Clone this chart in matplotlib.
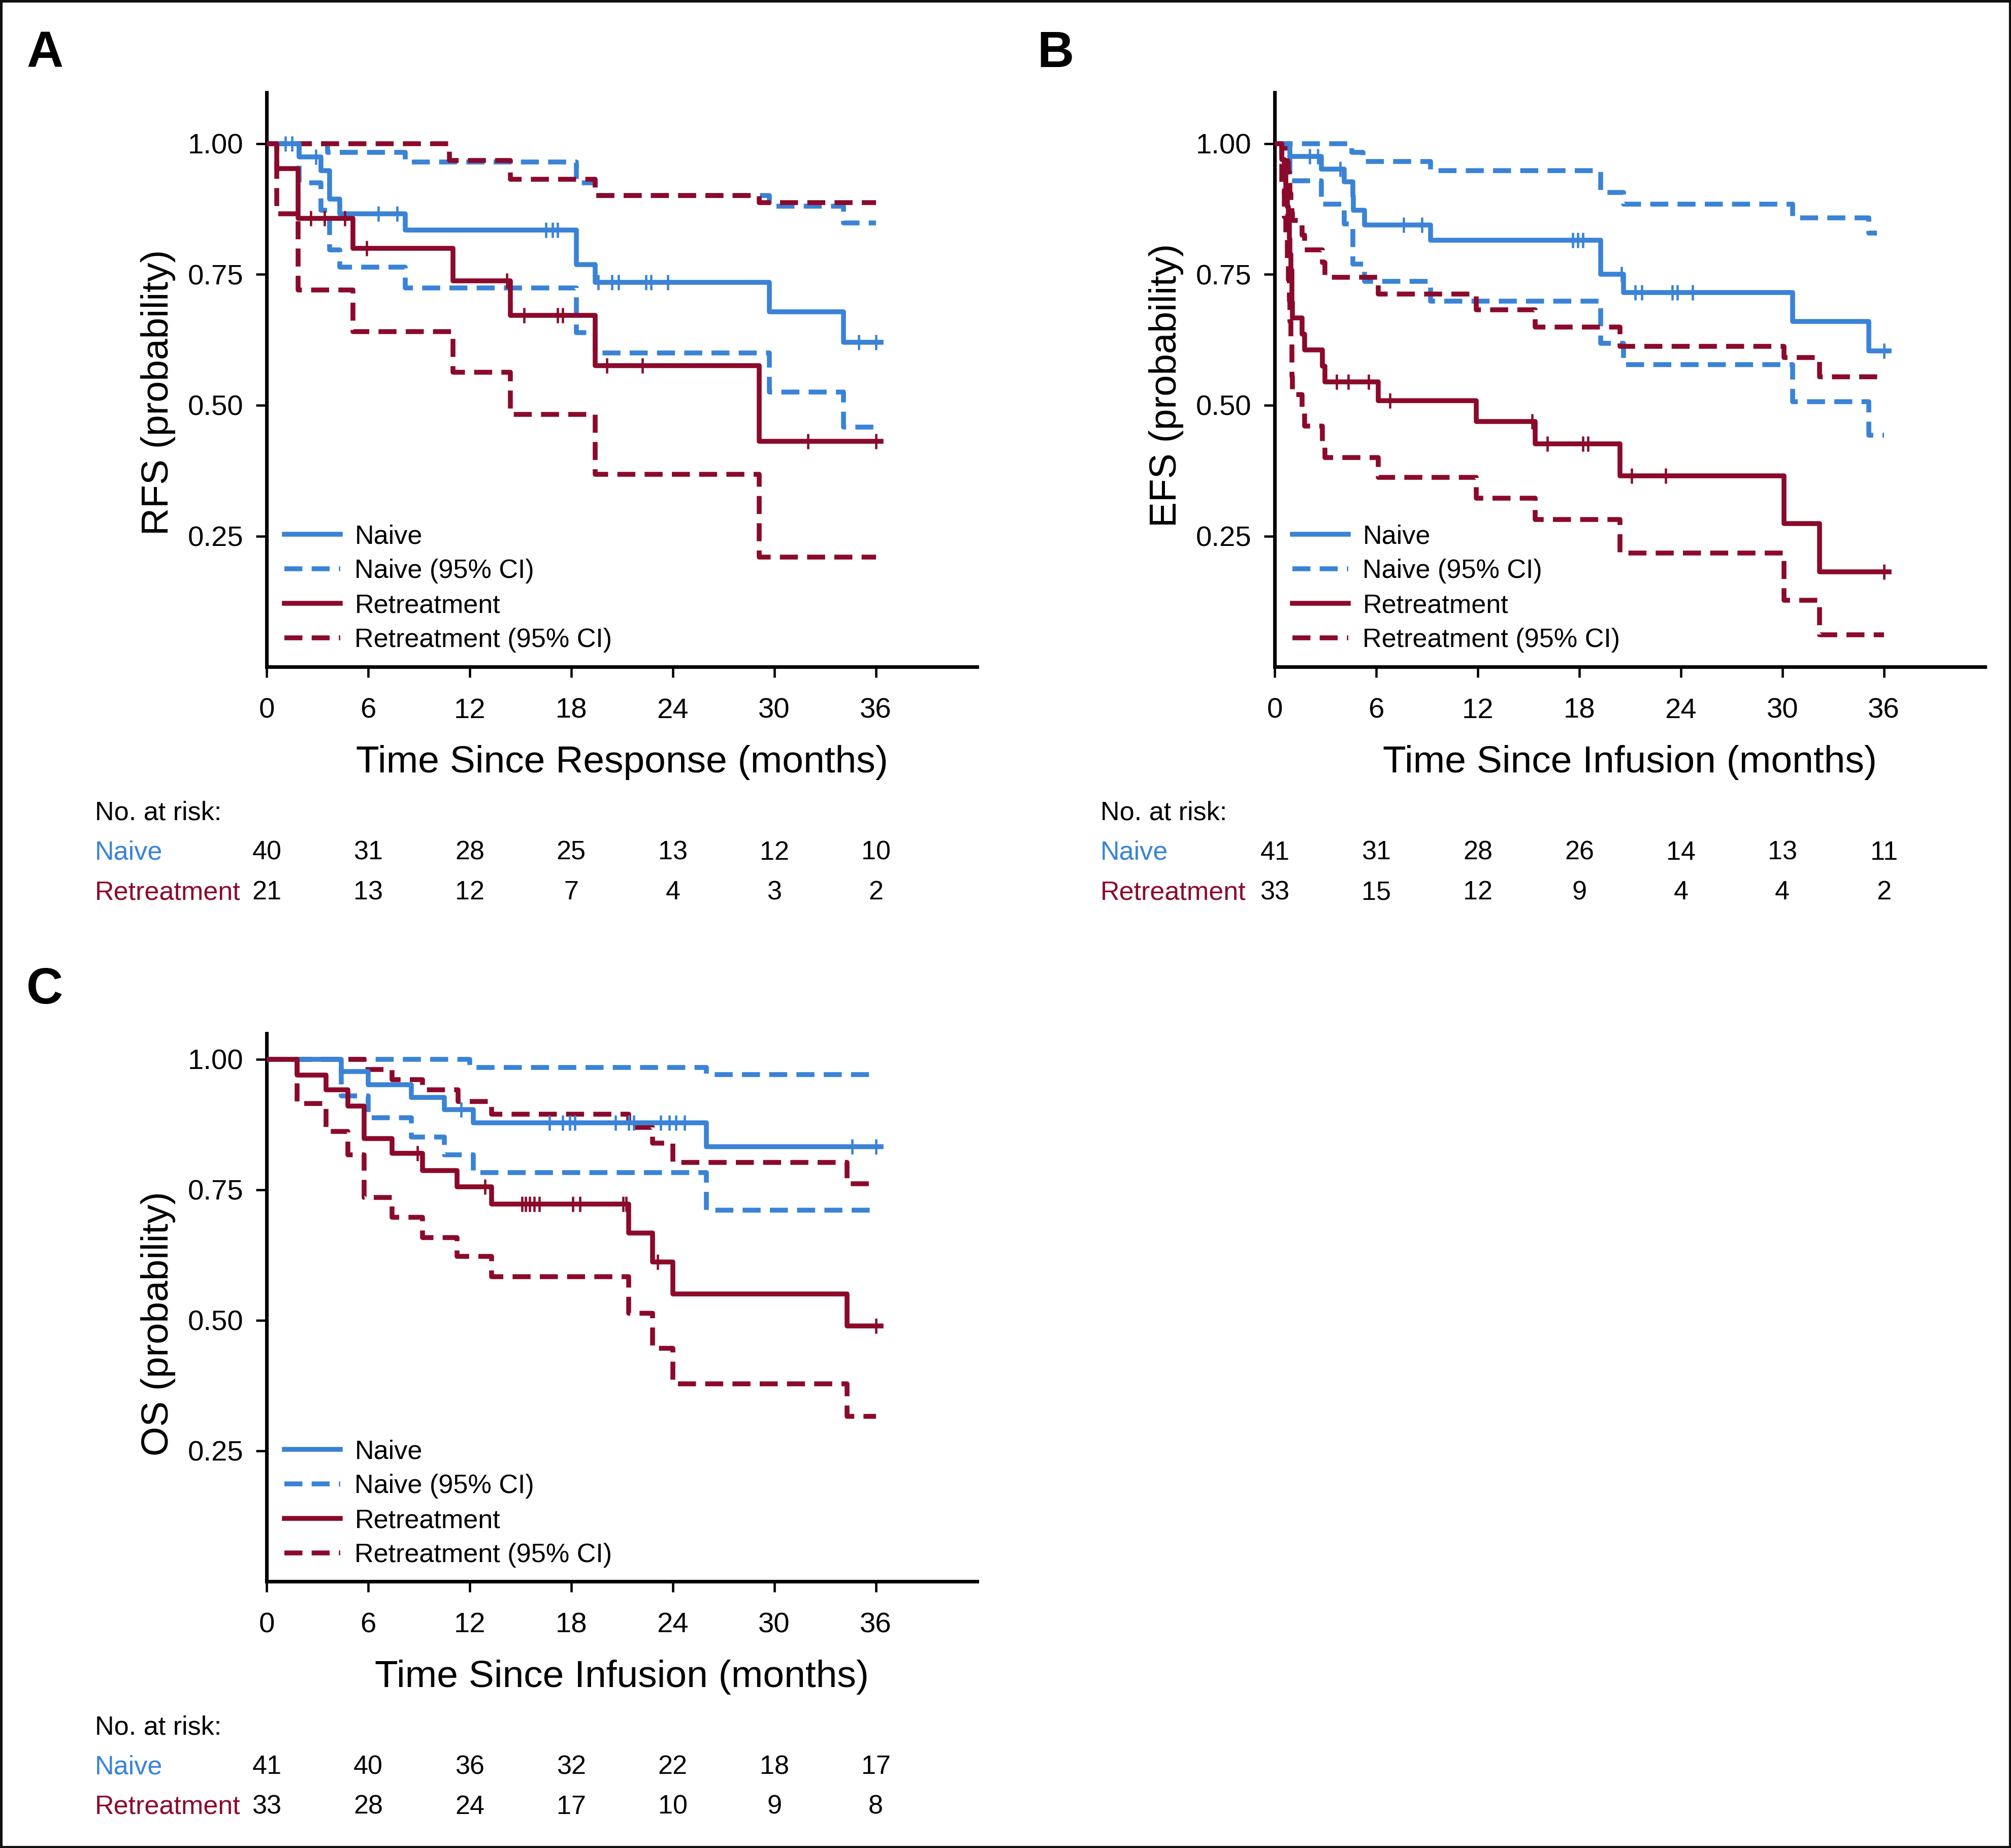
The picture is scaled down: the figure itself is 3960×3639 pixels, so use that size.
import numpy as np
import matplotlib
matplotlib.use("Agg")
import matplotlib.pyplot as plt
from matplotlib import font_manager
from matplotlib.transforms import blended_transform_factory
from matplotlib.patches import Rectangle

# ---------------- data ----------------
months = [0, 6, 12, 18, 24, 30, 36]

# Panel A : RFS, time since response
a_naive_t = [0, 1.9, 3.2, 3.7, 4.3, 8.2, 18.3, 19.4, 29.7, 34.1, 36.3]
a_naive_s = [1.0, 0.975, 0.948, 0.894, 0.866, 0.835, 0.769, 0.735, 0.679, 0.620, 0.620]
a_naive_cens = [1.1, 1.5, 2.9, 6.6, 7.7, 16.5, 16.9, 17.2, 19.6, 20.4, 20.8, 22.4, 22.7, 23.7, 35.0, 36.0]
a_naive_up_t = [0, 3.6, 8.2, 18.3, 19.4, 29.7, 34.1, 36]
a_naive_up_s = [1.0, 0.983, 0.965, 0.925, 0.901, 0.880, 0.848, 0.848]
a_naive_lo_t = [0, 1.9, 3.2, 3.7, 4.3, 8.2, 18.3, 19.4, 29.7, 34.1, 36]
a_naive_lo_s = [1.0, 0.925, 0.873, 0.797, 0.764, 0.724, 0.639, 0.600, 0.525, 0.458, 0.458]
a_re_t = [0, 0.6, 1.85, 5.1, 11.0, 14.4, 19.4, 29.1, 36.3]
a_re_s = [1.0, 0.952, 0.857, 0.800, 0.738, 0.672, 0.576, 0.431, 0.431]
a_re_cens = [2.6, 3.4, 4.6, 5.9, 14.2, 15.2, 17.2, 17.5, 20.1, 22.2, 32.0, 36.0]
a_re_up_t = [0, 10.8, 14.4, 19.4, 29.1, 36]
a_re_up_s = [1.0, 0.968, 0.932, 0.901, 0.887, 0.887]
a_re_lo_t = [0, 0.6, 1.85, 5.1, 11.0, 14.4, 19.4, 29.1, 36]
a_re_lo_s = [1.0, 0.866, 0.720, 0.641, 0.563, 0.483, 0.368, 0.210, 0.210]
a_risk_naive = [40, 31, 28, 25, 13, 12, 10]
a_risk_re = [21, 13, 12, 7, 4, 3, 2]

# Panel B : EFS, time since infusion
b_naive_t = [0, 0.9, 2.75, 4.1, 4.6, 4.65, 5.3, 9.2, 19.25, 20.6, 30.6, 35.1, 36.3]
b_naive_s = [1.0, 0.976, 0.951, 0.927, 0.900, 0.873, 0.845, 0.815, 0.750, 0.715, 0.660, 0.604, 0.604]
b_naive_cens = [2.07, 2.55, 3.85, 7.6, 8.7, 17.6, 17.9, 18.2, 20.5, 21.3, 21.7, 23.5, 23.8, 24.7, 36.0]
b_naive_up_t = [0, 4.55, 5.2, 9.2, 19.25, 20.6, 30.6, 35.1, 35.6]
b_naive_up_s = [1.0, 0.983, 0.966, 0.948, 0.907, 0.884, 0.858, 0.829, 0.829]
b_naive_lo_t = [0, 0.9, 2.75, 4.1, 4.6, 5.3, 9.2, 19.25, 20.6, 30.6, 35.1, 36]
b_naive_lo_s = [1.0, 0.929, 0.884, 0.846, 0.770, 0.737, 0.699, 0.618, 0.578, 0.507, 0.443, 0.443]
b_re_t = [0, 0.4, 0.55, 0.65, 0.75, 0.8, 0.85, 0.9, 0.95, 1.0, 1.02, 1.05, 1.6, 1.75,
          2.8, 2.95, 6.1, 11.9, 15.4, 20.4, 30.1, 32.2, 36.3]
b_re_s = [1.0, 0.970, 0.939, 0.909, 0.879, 0.848, 0.818, 0.788, 0.758, 0.727, 0.697, 0.667,
          0.636, 0.606, 0.575, 0.545, 0.509, 0.469, 0.426, 0.365, 0.274, 0.182, 0.182]
b_re_cens = [3.65, 4.33, 5.55, 6.8, 15.2, 16.1, 18.2, 18.5, 21.1, 23.1, 36.0]
b_re_up_t = [0, 0.55, 0.65, 0.75, 0.8, 0.85, 0.9, 0.95, 1.0, 1.05, 1.6, 1.75, 2.8, 2.95,
             6.1, 11.9, 15.4, 20.4, 30.1, 32.2, 35.8]
b_re_up_s = [1.0, 0.995, 0.98, 0.965, 0.945, 0.925, 0.905, 0.885, 0.868, 0.853, 0.825, 0.797,
             0.773, 0.745, 0.713, 0.682, 0.649, 0.613, 0.591, 0.554, 0.554]
b_re_lo_t = [0, 0.4, 0.55, 0.65, 0.75, 0.8, 0.85, 0.9, 0.95, 1.0, 1.02, 1.05, 1.6, 1.75,
             2.8, 2.95, 6.1, 11.9, 15.4, 20.4, 30.1, 32.2, 36]
b_re_lo_s = [1.0, 0.91, 0.86, 0.82, 0.78, 0.74, 0.70, 0.66, 0.625, 0.59, 0.555, 0.52, 0.49,
             0.46, 0.43, 0.40, 0.362, 0.322, 0.282, 0.218, 0.127, 0.061, 0.061]
b_risk_naive = [41, 31, 28, 26, 14, 13, 11]
b_risk_re = [33, 15, 12, 9, 4, 4, 2]

# Panel C : OS, time since infusion
c_naive_t = [0, 4.4, 6.0, 8.55, 10.5, 12.2, 26.0, 36.3]
c_naive_s = [1.0, 0.976, 0.951, 0.927, 0.903, 0.878, 0.832, 0.832]
c_naive_cens = [11.5, 16.7, 17.5, 17.9, 18.2, 20.6, 21.4, 21.7, 23.3, 23.8, 24.2, 24.7, 34.6, 36.0]
c_naive_up_t = [0, 12.0, 26.0, 36]
c_naive_up_s = [1.0, 0.984, 0.971, 0.971]
c_naive_lo_t = [0, 4.4, 6.0, 8.55, 10.5, 12.2, 26.0, 35.7]
c_naive_lo_s = [1.0, 0.930, 0.888, 0.851, 0.817, 0.783, 0.711, 0.711]
c_re_t = [0, 1.8, 3.5, 4.8, 5.75, 7.4, 9.2, 11.25, 13.3, 21.4, 22.8, 24.0, 34.3, 36.3]
c_re_s = [1.0, 0.970, 0.941, 0.910, 0.848, 0.820, 0.787, 0.756, 0.723, 0.667, 0.612, 0.550, 0.489, 0.489]
c_re_cens = [8.9, 12.9, 15.1, 15.3, 15.55, 15.8, 16.1, 18.1, 18.5, 21.05, 21.25, 23.1, 36.0]
c_re_up_t = [0, 5.75, 7.4, 9.2, 11.3, 13.3, 21.4, 22.8, 24.0, 34.3, 36]
c_re_up_s = [1.0, 0.980, 0.961, 0.941, 0.919, 0.895, 0.869, 0.839, 0.802, 0.761, 0.761]
c_re_lo_t = [0, 1.8, 3.5, 4.8, 5.75, 7.4, 9.2, 11.25, 13.3, 21.4, 22.8, 24.0, 34.3, 36]
c_re_lo_s = [1.0, 0.915, 0.862, 0.817, 0.735, 0.697, 0.658, 0.622, 0.583, 0.513, 0.446, 0.378, 0.316, 0.316]
c_risk_naive = [41, 40, 36, 32, 22, 18, 17]
c_risk_re = [33, 28, 24, 17, 10, 9, 8]

# ---------------- style ----------------
BLUE = "#3a83d6"
RED = "#8b0a2b"
names = {f.name for f in font_manager.fontManager.ttflist}
NARROW = "Liberation Sans Narrow" in names
BASE = "Liberation Sans"
LABEL_FONT = dict(family="Liberation Sans Narrow", size=20.5) if NARROW else dict(family=BASE, size=18)
plt.rcParams["font.family"] = [BASE, "DejaVu Sans"]

W, H = 3960, 3639
DPI = 300
fig = plt.figure(figsize=(W / DPI, H / DPI), dpi=DPI)
fig.patch.set_facecolor("white")

DW, DH = 1568.0, 1441.0  # layout reference units


def fx(x):
    return x / DW


def fy(y):
    return 1 - y / DH


LW = 2.3
DASH = (0, (3.7, 1.9))


def step_val(t, s, x):
    t = np.asarray(t)
    s = np.asarray(s)
    idx = np.searchsorted(t, x, side="right") - 1
    return s[idx]


def panel(rect, ylim_top, data, ylabel, xlabel, ylabel_y, risk, risk_ys, risk_x0, xlabel_center):
    l, r, t, b = rect
    ax = fig.add_axes([fx(l), fy(b), fx(r) - fx(l), fy(t) - fy(b)])
    (nt, ns, nc, nut, nus, nlt, nls, rt, rs, rc, rut, rus, rlt, rls) = data
    ax.step(nut, nus, where="post", color=BLUE, lw=LW, ls=DASH, zorder=2)
    ax.step(nlt, nls, where="post", color=BLUE, lw=LW, ls=DASH, zorder=2)
    ax.step(rut, rus, where="post", color=RED, lw=LW, ls=DASH, zorder=2)
    ax.step(rlt, rls, where="post", color=RED, lw=LW, ls=DASH, zorder=2)
    ax.step(nt, ns, where="post", color=BLUE, lw=LW, zorder=3)
    ax.step(rt, rs, where="post", color=RED, lw=LW, zorder=3)
    ax.plot(nc, step_val(nt, ns, nc), ls="none", marker="|", ms=7, mew=1.1, color=BLUE, zorder=4)
    ax.plot(rc, step_val(rt, rs, rc), ls="none", marker="|", ms=7, mew=1.1, color=RED, zorder=4)

    # legend proxies
    h = [plt.Line2D([], [], color=BLUE, lw=LW),
         plt.Line2D([], [], color=BLUE, lw=LW, ls=DASH),
         plt.Line2D([], [], color=RED, lw=LW),
         plt.Line2D([], [], color=RED, lw=LW, ls=DASH)]
    ax.legend(h, ["Naive", "Naive (95% CI)", "Retreatment", "Retreatment (95% CI)"],
              loc="lower left", bbox_to_anchor=(0.025, 0.025), frameon=False,
              fontsize=12.5, handlelength=2.1, handletextpad=0.55, labelspacing=0.36,
              borderpad=0, borderaxespad=0)

    ax.set_xlim(0, 42)
    ax.set_ylim(0, ylim_top)
    ax.set_xticks(months)
    ax.set_yticks([0.25, 0.5, 0.75, 1.0])
    ax.set_yticklabels(["0.25", "0.50", "0.75", "1.00"])
    for sp in ["top", "right"]:
        ax.spines[sp].set_visible(False)
    for sp in ["left", "bottom"]:
        ax.spines[sp].set_linewidth(1.7)
    ax.tick_params(axis="both", direction="out", length=5, width=1.1, labelsize=13.5, colors="black")
    ax.tick_params(axis="x", pad=9.5)
    ax.tick_params(axis="y", pad=6)
    ax.set_xlabel(xlabel, **LABEL_FONT)
    ax.set_ylabel(ylabel, **LABEL_FONT)
    # place x-label centre at a given reference row
    hpx = (b - t)
    ax.xaxis.set_label_coords(0.5, (b - (xlabel_center - 12)) / hpx)
    ax.yaxis.set_label_coords(-0.128, ylabel_y)

    # risk table
    tr = blended_transform_factory(ax.transData, fig.transFigure)
    y0, y1, y2 = risk_ys
    fig.text(fx(risk_x0), fy(y0), "No. at risk:", fontsize=12.5, va="center", ha="left")
    fig.text(fx(risk_x0), fy(y1), "Naive", fontsize=12.5, va="center", ha="left", color=BLUE)
    fig.text(fx(risk_x0), fy(y2), "Retreatment", fontsize=12.5, va="center", ha="left", color=RED)
    for m, n1, n2 in zip(months, risk[0], risk[1]):
        ax.text(m, fy(y1), str(n1), transform=tr, fontsize=12.5, ha="center", va="center")
        ax.text(m, fy(y2), str(n2), transform=tr, fontsize=12.5, ha="center", va="center")
    return ax


panel((208, 762, 72, 520), 1.098,
      (a_naive_t, a_naive_s, a_naive_cens, a_naive_up_t, a_naive_up_s, a_naive_lo_t, a_naive_lo_s,
       a_re_t, a_re_s, a_re_cens, a_re_up_t, a_re_up_s, a_re_lo_t, a_re_lo_s),
      "RFS (probability)", "Time Since Response (months)", 0.478,
      (a_risk_naive, a_risk_re), (634, 665, 696), 74, 593)

panel((994, 1548, 72, 520), 1.098,
      (b_naive_t, b_naive_s, b_naive_cens, b_naive_up_t, b_naive_up_s, b_naive_lo_t, b_naive_lo_s,
       b_re_t, b_re_s, b_re_cens, b_re_up_t, b_re_up_s, b_re_lo_t, b_re_lo_s),
      "EFS (probability)", "Time Since Infusion (months)", 0.49,
      (b_risk_naive, b_risk_re), (634, 665, 696), 858, 593)

panel((208, 762, 806, 1233), 1.049,
      (c_naive_t, c_naive_s, c_naive_cens, c_naive_up_t, c_naive_up_s, c_naive_lo_t, c_naive_lo_s,
       c_re_t, c_re_s, c_re_cens, c_re_up_t, c_re_up_s, c_re_lo_t, c_re_lo_s),
      "OS (probability)", "Time Since Infusion (months)", 0.47,
      (c_risk_naive, c_risk_re), (1347, 1378, 1409), 74, 1306)

for letter, (x, y) in zip("ABC", [(35, 42), (823, 42), (35, 772)]):
    fig.text(fx(x), fy(y), letter, fontsize=24, fontweight="bold", ha="center", va="center")

fig.add_artist(Rectangle((0, 0), 1, 1, transform=fig.transFigure, fill=False,
                         edgecolor="#111111", lw=2.2, clip_on=False))

fig.savefig("out.png", dpi=DPI, facecolor="white")
